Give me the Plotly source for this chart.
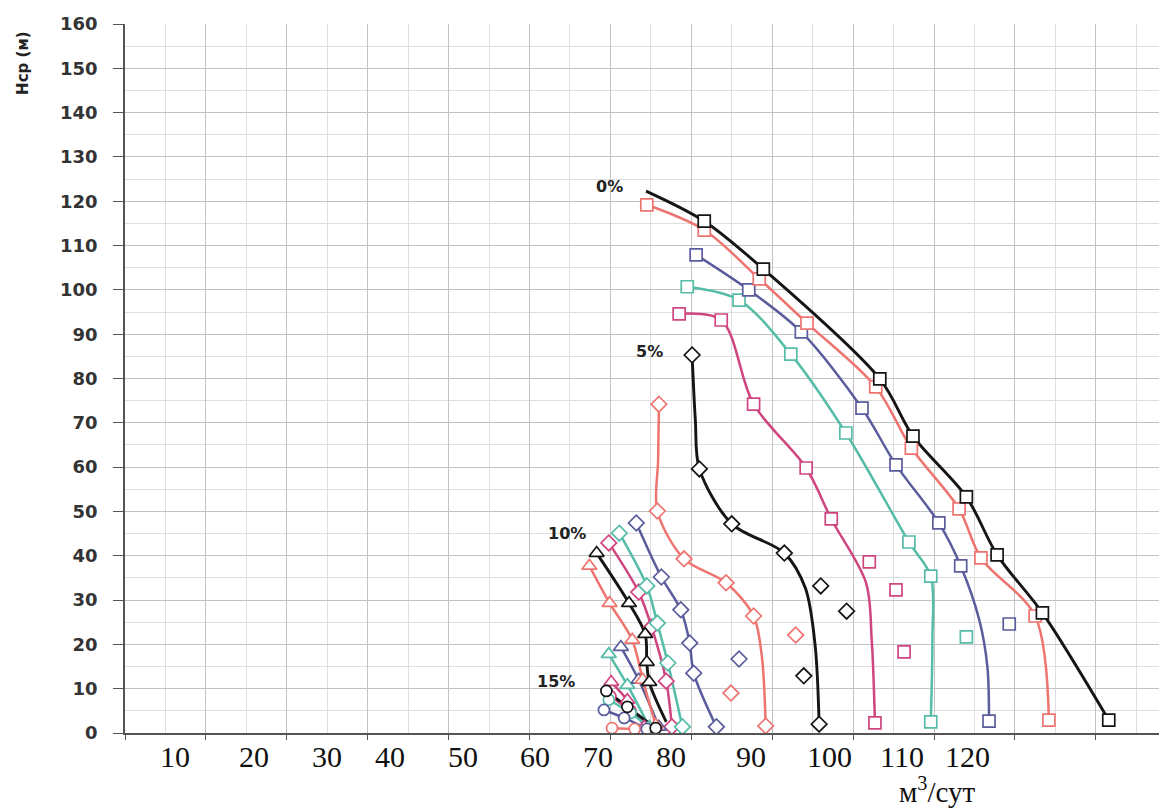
import plotly.graph_objects as go

# ---------------- data (x: м3/сут, y: Hcp, м) ----------------
# 0 % group (squares)
sq_black_x = [84.1, 91.4, 105.8, 109.9, 116.5, 120.3, 125.9, 134.1]
sq_black_y = [115.5, 104.7, 79.9, 67.0, 53.3, 40.2, 27.1, 2.9]
sq_black_bx = [76.9]
sq_black_by = [122.3]
sq_salmon_x = [77.0, 84.1, 90.9, 96.8, 105.3, 109.7, 115.6, 118.3, 125.0, 126.7]
sq_salmon_y = [119.2, 113.5, 102.5, 92.5, 78.1, 64.3, 50.6, 39.5, 26.4, 2.9]
sq_slate_x = [83.1, 89.6, 96.1, 103.6, 107.8, 113.1, 115.8, 119.3]
sq_slate_y = [107.9, 100.0, 90.5, 73.3, 60.5, 47.4, 37.7, 2.7]
sq_slate_bx = [118.1, 119.1]
sq_slate_by = [25.5, 14.9]
sq_teal_x = [82.0, 88.4, 94.8, 101.6, 109.4, 112.1, 112.1]
sq_teal_y = [100.7, 97.7, 85.5, 67.7, 43.1, 35.4, 2.5]
sq_teal_bx = [112.3]
sq_teal_by = [21.0]
sq_magenta_x = [81.0, 86.2, 90.2, 96.7, 99.8, 105.2]
sq_magenta_y = [94.6, 93.2, 74.2, 59.8, 48.3, 2.3]
sq_magenta_bx = [104.1, 104.8]
sq_magenta_by = [33.9, 21.0]
sq_magenta_ex_x = [104.5, 107.8, 108.8]
sq_magenta_ex_y = [38.6, 32.3, 18.3]
sq_slate_ex_x = [121.8]
sq_slate_ex_y = [24.6]
sq_teal_ex_x = [116.5]
sq_teal_ex_y = [21.7]

# 5 % group (diamonds)
di_black_x = [82.6, 83.5, 87.5, 94.0, 98.3]
di_black_y = [85.3, 59.6, 47.2, 40.6, 2.0]
di_black_bx = [83.0, 96.6, 97.8]
di_black_by = [70.6, 32.7, 19.9]
di_black_ex_x = [98.5, 101.7, 96.4]
di_black_ex_y = [33.2, 27.5, 12.9]
di_salmon_x = [78.5, 78.3, 81.6, 86.8, 90.2, 91.7]
di_salmon_y = [74.2, 50.1, 39.3, 33.9, 26.4, 1.6]
di_salmon_bx = [78.4, 91.2]
di_salmon_by = [61.6, 17.6]
di_salmon_ex_x = [95.4, 87.4]
di_salmon_ex_y = [22.1, 9.0]
di_slate_ex_x = [88.4]
di_slate_ex_y = [16.7]
di_slate_x = [75.7, 78.8, 81.2, 82.3, 82.8, 85.6]
di_slate_y = [47.4, 35.2, 27.8, 20.3, 13.5, 1.4]
di_teal_x = [73.6, 77.0, 78.3, 79.6, 81.4]
di_teal_y = [45.1, 33.2, 24.8, 15.8, 1.4]
di_magenta_x = [72.3, 76.0, 77.6, 79.4, 80.1]
di_magenta_y = [42.9, 31.8, 23.9, 11.7, 1.4]

# 10 % group (triangles)
tr_black_x = [70.8, 74.8, 76.8, 77.0, 77.3]
tr_black_y = [40.6, 29.3, 22.3, 16.0, 11.5]
tr_black_bx = [79.4]
tr_black_by = [2.5]
tr_salmon_x = [69.9, 72.4, 75.2, 76.5, 78.1]
tr_salmon_y = [37.7, 29.3, 21.0, 12.0, 1.8]
tr_slate_x = [73.8, 76.0, 78.5]
tr_slate_y = [19.4, 12.0, 1.4]
tr_teal_x = [72.3, 74.6, 77.3]
tr_teal_y = [17.8, 10.8, 1.4]
tr_magenta_x = [72.6, 74.6, 76.7]
tr_magenta_y = [11.5, 7.4, 1.4]

# 15 % group (circles)
ci_black_x = [72.0, 74.6, 78.1]
ci_black_y = [9.5, 5.9, 1.1]
ci_slate_x = [71.7, 74.2, 77.0]
ci_slate_y = [5.2, 3.4, 0.9]
ci_salmon_x = [72.7, 75.5]
ci_salmon_y = [1.1, 0.9]
ci_teal_x = [72.3, 75.0, 77.5]
ci_teal_y = [7.5, 4.5, 1.0]
ci_magenta_x = [72.5, 75.0, 77.5]
ci_magenta_y = [8.3, 5.0, 1.0]

group_labels = ["0%", "5%", "10%", "15%"]
group_label_x = [72.4, 77.3, 67.1, 65.8]
group_label_y = [123.4, 86.0, 45.1, 11.7]

x_tick_text = ["10", "20", "30", "40", "50", "60", "70", "80", "90", "100", "110", "120"]
x_tick_pos = [18.7, 28.5, 37.5, 45.3, 54.3, 63.2, 71.0, 80.0, 89.9, 99.6, 108.5, 116.6]
y_ticks = list(range(0, 161, 10))

# ---------------- styling ----------------
COL = {"black": "#151515", "salmon": "#ee7470", "slate": "#5a5c9c",
       "teal": "#55bca8", "magenta": "#cf4580"}
SYM = {"sq": "square", "di": "diamond", "tr": "triangle-up", "ci": "circle"}
MSIZE = {"sq": 12, "di": 12, "tr": 13, "ci": 11}


def path(mx, my, bx=(), by=()):
    pts = sorted(zip(list(mx) + list(bx), list(my) + list(by)), key=lambda p: -p[1])
    return [p[0] for p in pts], [p[1] for p in pts]


curves = [
    ("sq", "magenta", sq_magenta_x, sq_magenta_y, sq_magenta_bx, sq_magenta_by),
    ("sq", "teal", sq_teal_x, sq_teal_y, sq_teal_bx, sq_teal_by),
    ("sq", "slate", sq_slate_x, sq_slate_y, sq_slate_bx, sq_slate_by),
    ("sq", "salmon", sq_salmon_x, sq_salmon_y, [], []),
    ("sq", "black", sq_black_x, sq_black_y, sq_black_bx, sq_black_by),
    ("di", "magenta", di_magenta_x, di_magenta_y, [], []),
    ("di", "teal", di_teal_x, di_teal_y, [], []),
    ("di", "slate", di_slate_x, di_slate_y, [], []),
    ("di", "salmon", di_salmon_x, di_salmon_y, di_salmon_bx, di_salmon_by),
    ("di", "black", di_black_x, di_black_y, di_black_bx, di_black_by),
    ("tr", "magenta", tr_magenta_x, tr_magenta_y, [], []),
    ("tr", "teal", tr_teal_x, tr_teal_y, [], []),
    ("tr", "slate", tr_slate_x, tr_slate_y, [], []),
    ("tr", "salmon", tr_salmon_x, tr_salmon_y, [], []),
    ("tr", "black", tr_black_x, tr_black_y, tr_black_bx, tr_black_by),
    ("ci", "magenta", ci_magenta_x, ci_magenta_y, [], []),
    ("ci", "teal", ci_teal_x, ci_teal_y, [], []),
    ("ci", "salmon", ci_salmon_x, ci_salmon_y, [], []),
    ("ci", "slate", ci_slate_x, ci_slate_y, [], []),
    ("ci", "black", ci_black_x, ci_black_y, [], []),
]

extras = [
    ("sq", "magenta", sq_magenta_ex_x, sq_magenta_ex_y),
    ("sq", "slate", sq_slate_ex_x, sq_slate_ex_y),
    ("sq", "teal", sq_teal_ex_x, sq_teal_ex_y),
    ("di", "black", di_black_ex_x, di_black_ex_y),
    ("di", "salmon", di_salmon_ex_x, di_salmon_ex_y),
    ("di", "slate", di_slate_ex_x, di_slate_ex_y),
]

fig = go.Figure()

for kind, c, mx, my, bx, by in curves:
    lx, ly = path(mx, my, bx, by)
    fig.add_trace(go.Scatter(
        x=lx, y=ly, mode="lines", hoverinfo="skip",
        line=dict(color=COL[c], width=2.9 if c == "black" else 2.5,
                  shape="spline", smoothing=0.9)))

for kind, c, mx, my, bx, by in curves:
    fig.add_trace(go.Scatter(
        x=mx, y=my, mode="markers",
        marker=dict(symbol=SYM[kind], size=MSIZE[kind], color="white",
                    line=dict(color=COL[c], width=1.7))))

for kind, c, mx, my in extras:
    fig.add_trace(go.Scatter(
        x=mx, y=my, mode="markers",
        marker=dict(symbol=SYM[kind], size=MSIZE[kind], color="white",
                    line=dict(color=COL[c], width=1.7))))

ann = []
for t, gx, gy in zip(group_labels, group_label_x, group_label_y):
    ann.append(dict(x=gx, y=gy, xref="x", yref="y", text="<b>" + t + "</b>", showarrow=False,
                    font=dict(family="DejaVu Sans", size=16, color="#222"),
                    xanchor="center", yanchor="middle"))
for t, px in zip(x_tick_text, x_tick_pos):
    ann.append(dict(x=px, y=-0.033, xref="x", yref="paper", text=t, showarrow=False,
                    font=dict(family="Liberation Serif", size=30, color="#111"),
                    xanchor="center", yanchor="middle"))
ann.append(dict(x=0.78, y=-0.081, xref="paper", yref="paper",
                text="м<sup>3</sup>/сут", showarrow=False,
                font=dict(family="Liberation Serif", size=29, color="#111"),
                xanchor="center", yanchor="middle"))
ann.append(dict(x=-0.098, y=0.945, xref="paper", yref="paper", text="<b>Hcp (м)</b>",
                textangle=-90, showarrow=False,
                font=dict(family="DejaVu Sans", size=15, color="#222"),
                xanchor="center", yanchor="middle"))

fig.update_layout(
    width=1159, height=800,
    margin=dict(l=117, r=0, t=16, b=75, autoexpand=False),
    paper_bgcolor="white", plot_bgcolor="white",
    showlegend=False, annotations=ann,
    xaxis=dict(range=[12.5, 141.3], tick0=12.5, dtick=10,
               showgrid=True, gridcolor="#c2c2c2", gridwidth=1,
               minor=dict(tick0=12.5, dtick=5, showgrid=True, gridcolor="#dedede", gridwidth=1),
               showticklabels=False, ticks="outside", ticklen=5, tickcolor="#555",
               showline=True, linecolor="#555", linewidth=1.5, zeroline=False),
    yaxis=dict(range=[0, 160], tickvals=y_ticks,
               showgrid=True, gridcolor="#c2c2c2", gridwidth=1,
               minor=dict(dtick=5, showgrid=True, gridcolor="#dedede", gridwidth=1),
               ticks="outside", ticklen=10, tickcolor="#555", ticklabelstandoff=12,
               tickfont=dict(family="DejaVu Sans", size=18, color="#333", weight="bold"),
               showline=True, linecolor="#555", linewidth=1.5, zeroline=False),
)

fig.write_html("out.html")
